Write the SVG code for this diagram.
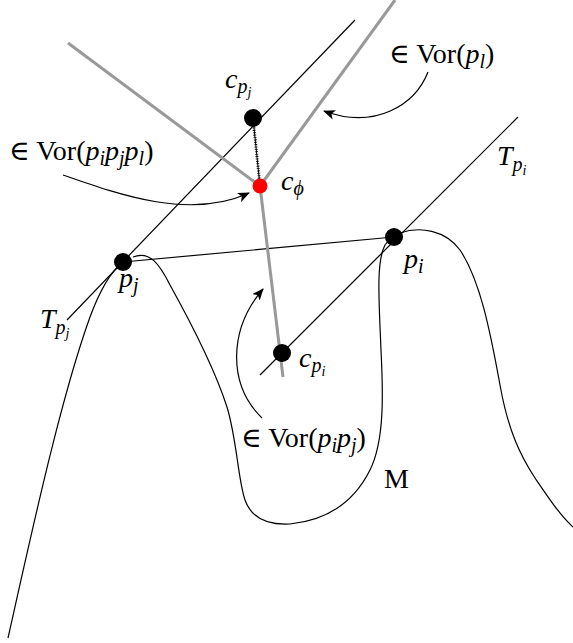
<svg xmlns="http://www.w3.org/2000/svg" width="573" height="643" viewBox="0 0 573 643">
<style>
.thin{fill:none;stroke:#000;stroke-width:1.2}
.vor{fill:none;stroke:#999;stroke-width:3}
.arr{fill:none;stroke:#000;stroke-width:1.2;marker-end:url(#ah)}
text{font-family:"Liberation Serif","DejaVu Serif",serif;font-size:28px;fill:#000}
.it{font-style:italic}
.s1{font-size:20px;font-style:italic}
.s2{font-size:14px;font-style:italic}
</style>
<defs>
<marker id="ah" viewBox="0 0 12 10" refX="11" refY="5" markerWidth="12" markerHeight="10" markerUnits="userSpaceOnUse" orient="auto">
<path d="M0 0 L12 5 L0 10 L3 5 Z" fill="#000"/>
</marker>
</defs>
<rect width="573" height="643" fill="#fff"/>
<g id="surface">
<path class="thin" d="M8 638 C30 540 60 400 90 317 C100 290 110 272 123 262 M133 257 C150 250 160 265 170 285 C195 330 215 370 227 407 C237 440 238 480 245 500 C252 520 270 525 290 524 C330 520 355 500 370 470 C385 440 383 390 381 350 C379 300 376 262 385 245 C390 238 394 237 396 236 M400 233 C420 226 445 230 460 250 C480 280 490 330 500 385 C508 430 520 455 535 478 C550 500 560 515 573 527"/>
</g>
<g id="connectors">
<line class="thin" x1="355" y1="20" x2="67" y2="320"/>
<line class="thin" x1="518" y1="117" x2="260" y2="375"/>
<line class="thin" x1="123" y1="262" x2="394" y2="237"/>
<line class="vor" x1="68" y1="43" x2="260" y2="186"/>
<line class="vor" x1="395" y1="0" x2="260" y2="186"/>
<line class="vor" x1="260" y1="186" x2="283" y2="377"/>
<line x1="253" y1="118" x2="260" y2="186" stroke="#000" stroke-width="1"/>
<line x1="253" y1="118" x2="260" y2="186" stroke="#000" stroke-width="3" stroke-dasharray="0.8,1.6"/>
<path class="arr" d="M428 72 C415 105 375 130 324 111"/>
<path class="arr" d="M63 175 C120 195 190 220 249 193"/>
<path class="arr" d="M262 418 C228 385 228 330 263 289"/>
</g>
<g id="c_pj"><circle cx="253" cy="118" r="9" fill="#000"/>
<text x="225" y="88" class="it">c<tspan class="s1" dy="5">p</tspan><tspan class="s2" dy="4">j</tspan></text></g>
<g id="c_phi"><circle cx="260" cy="186" r="7.5" fill="#f00"/>
<text x="281" y="190" class="it">c<tspan class="s1" dy="5">ϕ</tspan></text></g>
<g id="p_j"><circle cx="123" cy="262" r="9" fill="#000"/>
<text x="119" y="287" class="it">p<tspan class="s1" dy="5">j</tspan></text></g>
<g id="p_i"><circle cx="394" cy="237" r="9" fill="#000"/>
<text x="404" y="268" class="it">p<tspan class="s1" dy="5">i</tspan></text></g>
<g id="c_pi"><circle cx="282" cy="353" r="9" fill="#000"/>
<text x="299" y="367" class="it">c<tspan class="s1" dy="5">p</tspan><tspan class="s2" dy="4">i</tspan></text></g>
<g id="T_pi"><text x="497" y="165" class="it">T<tspan class="s1" dy="6">p</tspan><tspan class="s2" dy="4">i</tspan></text></g>
<g id="T_pj"><text x="40" y="328" class="it">T<tspan class="s1" dy="6">p</tspan><tspan class="s2" dy="4">j</tspan></text></g>
<g id="M"><text x="384" y="488" font-size="27">M</text></g>
<g id="lab_pl"><text x="389" y="63">∈ Vor(<tspan class="it">p</tspan><tspan class="s1" dy="5">l</tspan><tspan dy="-5">)</tspan></text></g>
<g id="lab_pipjpl"><text x="9" y="160">∈ Vor(<tspan class="it">p</tspan><tspan class="s1" dy="5">i</tspan><tspan class="it" dy="-5">p</tspan><tspan class="s1" dy="5">j</tspan><tspan class="it" dy="-5">p</tspan><tspan class="s1" dy="5">l</tspan><tspan dy="-5">)</tspan></text></g>
<g id="lab_pipj"><text x="241" y="447">∈ Vor(<tspan class="it">p</tspan><tspan class="s1" dy="5">i</tspan><tspan class="it" dy="-5">p</tspan><tspan class="s1" dy="5">j</tspan><tspan dy="-5">)</tspan></text></g>
</svg>
